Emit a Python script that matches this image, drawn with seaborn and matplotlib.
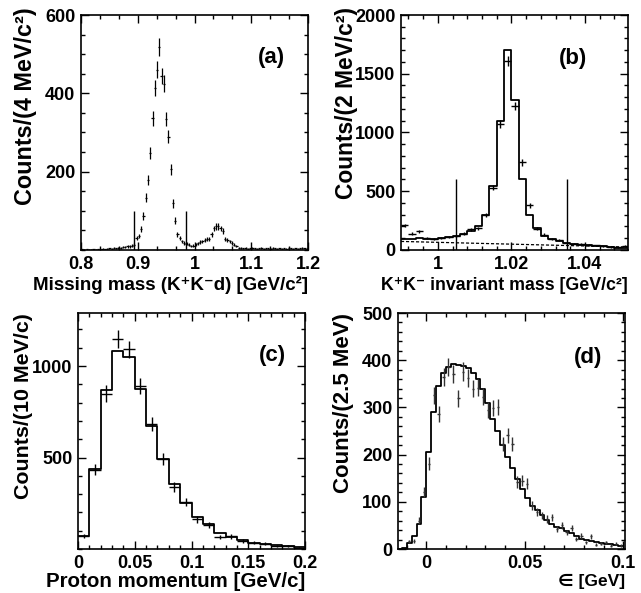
import numpy as np
import pandas as pd
import matplotlib
matplotlib.use("Agg")
import matplotlib.pyplot as plt
import matplotlib.ticker as mticker
import seaborn as sns

sns.set_style("ticks")
plt.rcParams["font.family"] = ["Liberation Sans", "DejaVu Sans"]
plt.rcParams["font.weight"] = "bold"
plt.rcParams["axes.labelweight"] = "bold"
plt.rcParams["text.color"] = "black"
plt.rcParams["axes.labelcolor"] = "black"
plt.rcParams["xtick.color"] = "black"
plt.rcParams["ytick.color"] = "black"

# === (a) missing mass, 4 MeV bins 0.8 - 1.2 ===
a_edges = np.linspace(0.8, 1.2, 101)
a_counts = [2, 1, 2, 1, 1, 2, 1, 2, 2, 3, 2, 3, 4,
            3, 5, 4, 6, 6, 7, 7, 9, 9, 11, 14,
            30, 36, 53, 87, 134, 179, 248, 336, 413, 460, 519, 444, 425, 334, 289, 206, 119, 75, 40,
            30, 22, 18, 16, 13, 10, 11, 15, 17, 20, 22, 25, 27, 29, 40, 55, 60, 60, 55, 48, 28, 25,
            22, 18, 14, 10,
            6, 5, 4, 5, 3, 4, 5, 4, 3, 4, 5, 3, 4, 4, 3, 5, 4, 3, 4, 3, 4, 3, 5, 4, 3, 4, 3, 4, 5, 4, 3]
a_cut_x = [0.894, 0.985]
a_cut_h = 100

# === (b) K+K- invariant mass, 2 MeV bins ===
b_edges = np.linspace(0.990, 1.052, 32)
b_hist = [96, 96, 99, 96, 91, 105, 108, 119, 139, 161, 203, 302, 542, 1100, 1700,
          1280, 607, 302, 185, 122, 90, 78, 62, 52, 46, 40, 35, 30, 25, 20, 16]
b_data = [210, 140, 158, 100, 92, 102, 112, 120, 140, 175, 185, 295, 530, 1075, 1610,
          1225, 745, 380, 180, 130, 95, 82, 62, 55, 50, 42, 40, 32, 26, 22, 35]
b_bkg_x = [0.990, 1.052]
b_bkg_y = [73, 25]
b_cut_x = [1.005, 1.035]
b_cut_h = 600

# === (c) proton momentum, 10 MeV bins ===
c_edges = np.linspace(0.0, 0.2, 21)
c_hist = [71, 438, 867, 1085, 1052, 874, 674, 494, 353, 253,
          176, 134, 89, 67, 49, 35, 29, 20, 16, 9]
c_data = [70, 434, 849, 1147, 1092, 892, 685, 492, 338, 258,
          162, 131, 65, 69, 45, 35, 28, 18, 15, 8]
c_err = [12, 30, 45, 48, 47, 43, 38, 32, 27, 23, 19, 17, 12, 12, 10, 9, 8, 6, 5, 4]

# === (d) epsilon, 2.5 MeV bins ===
d_edges = np.linspace(-0.015, 0.1, 47)
d_hist = [0, 2, 12, 28, 53, 110, 205, 290, 345, 372, 385, 392, 390, 387, 383, 372,
          360, 338, 310, 275, 250, 220, 195, 172, 148, 128, 108, 92, 82, 72, 62, 52,
          47, 44, 38, 33, 27, 22, 20, 17, 15, 13, 11, 10, 8, 7]
d_data = [16, 18, 60, 121, 181, 326, 287, 365, 386, 370, 319, 376, 362, 340, 342,
          323, 294, 298, 301, 223, 241, 223, 142, 145, 138, 92, 78, 71, 64, 67, 43,
          50, 35, 44, 21, 28, 14, 27, 9, 11, 14, 7, 11, 7]


def centers(edges):
    return 0.5 * (edges[:-1] + edges[1:])


def style_axes(ax):
    for s in ax.spines.values():
        s.set_linewidth(1.2)
        s.set_color("black")
    ax.tick_params(which="both", direction="in", top=True, right=True,
                   labelsize=13, width=1.0, color="black", labelcolor="black")
    ax.tick_params(which="major", length=6, pad=4)
    ax.tick_params(which="minor", length=3)
    ax.xaxis.set_major_formatter(mticker.FuncFormatter(lambda v, p: f"{v:g}"))
    ax.yaxis.set_major_formatter(mticker.FuncFormatter(lambda v, p: f"{v:g}"))


def hist(ax, edges, vals):
    df = pd.DataFrame({"x": centers(edges), "w": vals})
    sns.histplot(data=df, x="x", weights="w", bins=[float(e) for e in edges],
                 element="step", fill=False, color="black", linewidth=1.3, ax=ax)
    ax.set_xlabel("")
    ax.set_ylabel("")


fig = plt.figure(figsize=(6.41, 5.93), dpi=100)
W, H = 641, 593


def add_ax(l, r, t, b):
    return fig.add_axes([l / W, 1 - b / H, (r - l) / W, (b - t) / H])


ax_a = add_ax(81, 308, 15, 250)
ax_b = add_ax(401, 628, 15, 250)
ax_c = add_ax(78, 305, 313, 549)
ax_d = add_ax(398, 625, 313, 549)

yl_fs = 16
tag_fs = 16

# (a)
xa = centers(a_edges)
ax_a.errorbar(xa, a_counts, yerr=np.sqrt(a_counts), xerr=0.002, fmt="none",
              ecolor="black", elinewidth=0.9)
ax_a.vlines(a_cut_x, 0, a_cut_h, color="black", lw=1.0)
ax_a.set_xlim(0.8, 1.2)
ax_a.set_ylim(0, 600)
ax_a.set_yticks([200, 400, 600])
ax_a.yaxis.set_minor_locator(mticker.MultipleLocator(50))
ax_a.set_xticks([0.8, 0.9, 1.0, 1.1, 1.2])
ax_a.xaxis.set_minor_locator(mticker.MultipleLocator(0.1 / 3))
ax_a.text(0.84, 0.82, "(a)", transform=ax_a.transAxes, ha="center", va="center",
          fontsize=tag_fs)
ax_a.set_xlabel("Missing mass (K\u207aK\u207bd) [GeV/c\u00b2]", fontsize=13.5,
                loc="right", va="center")
ax_a.xaxis.set_label_coords(1.0, -0.149)
ax_a.set_ylabel("Counts/(4 MeV/c\u00b2)", fontsize=16.8, loc="top", va="center")
ax_a.yaxis.set_label_coords(-0.245, 1.034)

# (b)
hist(ax_b, b_edges, b_hist)
ax_b.errorbar(centers(b_edges), b_data, yerr=np.sqrt(b_data), xerr=0.001, fmt="none",
              ecolor="black", elinewidth=1.0)
sns.lineplot(x=b_bkg_x, y=b_bkg_y, color="black", lw=0.9, linestyle=(0, (2.5, 1.5)), ax=ax_b)
ax_b.vlines(b_cut_x, 0, b_cut_h, color="black", lw=1.0)
ax_b.set_xlim(0.990, 1.0517)
ax_b.set_ylim(0, 2000)
ax_b.set_xticks([1.0, 1.02, 1.04])
ax_b.xaxis.set_minor_locator(mticker.MultipleLocator(0.004))
ax_b.set_yticks([0, 500, 1000, 1500, 2000])
ax_b.yaxis.set_minor_locator(mticker.MultipleLocator(100))
ax_b.text(0.758, 0.813, "(b)", transform=ax_b.transAxes, ha="center", va="center",
          fontsize=tag_fs)
ax_b.set_xlabel("K\u207aK\u207b invariant mass [GeV/c\u00b2]", fontsize=12.8,
                loc="right", va="center")
ax_b.xaxis.set_label_coords(1.0, -0.149)
ax_b.set_ylabel("Counts/(2 MeV/c\u00b2)", fontsize=16.4, loc="top", va="center")
ax_b.yaxis.set_label_coords(-0.238, 1.034)

# (c)
hist(ax_c, c_edges, c_hist)
ax_c.errorbar(centers(c_edges), c_data, yerr=c_err, xerr=0.005, fmt="none",
              ecolor="black", elinewidth=1.0)
ax_c.set_xlim(0, 0.2)
ax_c.set_ylim(0, 1290)
ax_c.set_xticks([0, 0.05, 0.1, 0.15, 0.2])
ax_c.xaxis.set_minor_locator(mticker.MultipleLocator(0.01))
ax_c.set_yticks([500, 1000])
ax_c.yaxis.set_minor_locator(mticker.MultipleLocator(100))
ax_c.text(0.855, 0.818, "(c)", transform=ax_c.transAxes, ha="center", va="center",
          fontsize=tag_fs)
ax_c.set_xlabel("Proton momentum [GeV/c]", fontsize=14.8, loc="right", va="center")
ax_c.xaxis.set_label_coords(1.0, -0.138)
ax_c.set_ylabel("Counts/(10 MeV/c)", fontsize=15.4, loc="top", va="center")
ax_c.yaxis.set_label_coords(-0.242, 1.0)

# (d)
hist(ax_d, d_edges, d_hist)
ax_d.errorbar(centers(d_edges)[2:], d_data, yerr=np.sqrt(d_data), xerr=0.0006,
              fmt="none", ecolor="#333333", elinewidth=1.0)
ax_d.set_xlim(-0.0144, 0.1009)
ax_d.set_ylim(0, 500)
ax_d.set_xticks([0, 0.05, 0.1])
ax_d.xaxis.set_minor_locator(mticker.MultipleLocator(0.01))
ax_d.set_yticks([0, 100, 200, 300, 400, 500])
ax_d.yaxis.set_minor_locator(mticker.MultipleLocator(20))
ax_d.text(0.837, 0.81, "(d)", transform=ax_d.transAxes, ha="center", va="center",
          fontsize=tag_fs)
ax_d.set_xlabel("\u2208 [GeV]", fontsize=12.5, loc="right", va="center")
ax_d.xaxis.set_label_coords(1.0, -0.138)
ax_d.set_ylabel("Counts/(2.5 MeV)", fontsize=16, loc="top", va="center")
ax_d.yaxis.set_label_coords(-0.242, 1.0)

for ax in (ax_a, ax_b, ax_c, ax_d):
    style_axes(ax)

fig.savefig("out.png", dpi=100, facecolor="white")
